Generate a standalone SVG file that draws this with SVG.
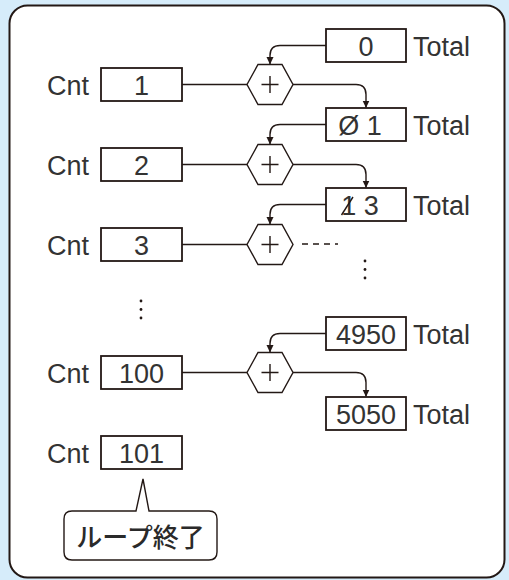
<svg xmlns="http://www.w3.org/2000/svg" width="509" height="580" viewBox="0 0 509 580">
<defs>
<style>
.box{fill:#fff;stroke:#231815;stroke-width:1.8}
.hex{fill:#fff;stroke:#231815;stroke-width:1.4}
.ln{fill:none;stroke:#231815;stroke-width:1.4}
.t{font-family:"Liberation Sans",Arial,sans-serif;font-size:27px;fill:#333}
.c{text-anchor:middle}
.jp{font-family:"Noto Sans CJK JP","Noto Sans",sans-serif;font-size:26px;font-weight:500;fill:#2a2a2a;text-anchor:middle}
</style>
<marker id="ah" markerWidth="8" markerHeight="8" refX="7" refY="4" orient="auto" markerUnits="userSpaceOnUse"><path d="M0,0.5 L7.5,4 L0,7.5 z" fill="#231815"/></marker>
</defs>
<rect x="0" y="0" width="509" height="580" fill="#d6ecfa"/>
<rect x="9.5" y="5.5" width="495" height="572" rx="18" fill="#fff" stroke="#231815" stroke-width="2"/>

<g id="connectors">
<path class="ln" d="M182,84.5 H247"/>
<path class="ln" d="M326,45.5 H280 Q270,45.5 270,55.5 V64" marker-end="url(#ah)"/>
<path class="ln" d="M293,84.5 H356 Q366,84.5 366,94.5 V107.5" marker-end="url(#ah)"/>
<path class="ln" d="M182,164.5 H247"/>
<path class="ln" d="M326,124.5 H280 Q270,124.5 270,134.5 V144" marker-end="url(#ah)"/>
<path class="ln" d="M293,164.5 H356 Q366,164.5 366,174.5 V187.5" marker-end="url(#ah)"/>
<path class="ln" d="M182,244.5 H247"/>
<path class="ln" d="M326,204.5 H280 Q270,204.5 270,214.5 V224" marker-end="url(#ah)"/>
<path class="ln" d="M302,244 H338" stroke-dasharray="6 5"/>
<path class="ln" d="M182,372.5 H247"/>
<path class="ln" d="M326,333.5 H280 Q270,333.5 270,343.5 V352" marker-end="url(#ah)"/>
<path class="ln" d="M293,372.5 H356 Q366,372.5 366,382.5 V396.5" marker-end="url(#ah)"/>
</g>

<g id="dots" fill="#231815">
<circle cx="365" cy="261" r="1.4"/><circle cx="365" cy="269.5" r="1.4"/><circle cx="365" cy="278" r="1.4"/>
<circle cx="141" cy="301" r="1.4"/><circle cx="141" cy="309.5" r="1.4"/><circle cx="141" cy="318" r="1.4"/>
</g>

<g id="total0"><rect class="box" x="326" y="29" width="80" height="33"/><text class="t c" x="366" y="55.5">0</text><text class="t" x="413" y="55.5">Total</text></g>
<g id="cnt1"><text class="t" x="47" y="95">Cnt</text><rect class="box" x="101" y="68" width="81" height="33"/><text class="t c" x="141.5" y="95">1</text></g>
<g id="add1"><polygon class="hex" points="247,84.5 258,64.5 282,64.5 293,84.5 282,104.5 258,104.5"/><path class="ln" d="M261.5,84.5 H278.5 M270,76 V93"/></g>

<g id="total1"><rect class="box" x="326" y="108" width="80" height="33"/><text class="t c" x="360" y="134.5">Ø 1</text><text class="t" x="413" y="134.5">Total</text></g>
<g id="cnt2"><text class="t" x="47" y="175">Cnt</text><rect class="box" x="101" y="148" width="81" height="33"/><text class="t c" x="141.5" y="175">2</text></g>
<g id="add2"><polygon class="hex" points="247,164.5 258,144.5 282,144.5 293,164.5 282,184.5 258,184.5"/><path class="ln" d="M261.5,164.5 H278.5 M270,156 V173"/></g>

<g id="total3"><rect class="box" x="326" y="188" width="80" height="33"/><text class="t c" x="360" y="214.5">1 3</text><path class="ln" d="M341.5,215 L353,197"/><text class="t" x="413" y="214.5">Total</text></g>
<g id="cnt3"><text class="t" x="47" y="255">Cnt</text><rect class="box" x="101" y="228" width="81" height="33"/><text class="t c" x="141.5" y="255">3</text></g>
<g id="add3"><polygon class="hex" points="247,244.5 258,224.5 282,224.5 293,244.5 282,264.5 258,264.5"/><path class="ln" d="M261.5,244.5 H278.5 M270,236 V253"/></g>

<g id="total4950"><rect class="box" x="326" y="317" width="80" height="33"/><text class="t c" x="366" y="343.5">4950</text><text class="t" x="413" y="343.5">Total</text></g>
<g id="cnt100"><text class="t" x="47" y="383">Cnt</text><rect class="box" x="101" y="356" width="81" height="33"/><text class="t c" x="141.5" y="383">100</text></g>
<g id="add100"><polygon class="hex" points="247,372.5 258,352.5 282,352.5 293,372.5 282,392.5 258,392.5"/><path class="ln" d="M261.5,372.5 H278.5 M270,364 V381"/></g>

<g id="total5050"><rect class="box" x="326" y="397" width="80" height="33"/><text class="t c" x="366" y="423.5">5050</text><text class="t" x="413" y="423.5">Total</text></g>
<g id="cnt101"><text class="t" x="47" y="463">Cnt</text><rect class="box" x="101" y="436" width="81" height="33"/><text class="t c" x="141.5" y="463">101</text></g>

<g id="callout"><path d="M72,511 H136 L143,479 L149,511 H209 Q217,511 217,519 V552 Q217,560 209,560 H72 Q64,560 64,552 V519 Q64,511 72,511 Z" fill="#fff" stroke="#231815" stroke-width="1.4"/><text class="jp" x="140.5" y="547">ループ終了</text></g>
</svg>
